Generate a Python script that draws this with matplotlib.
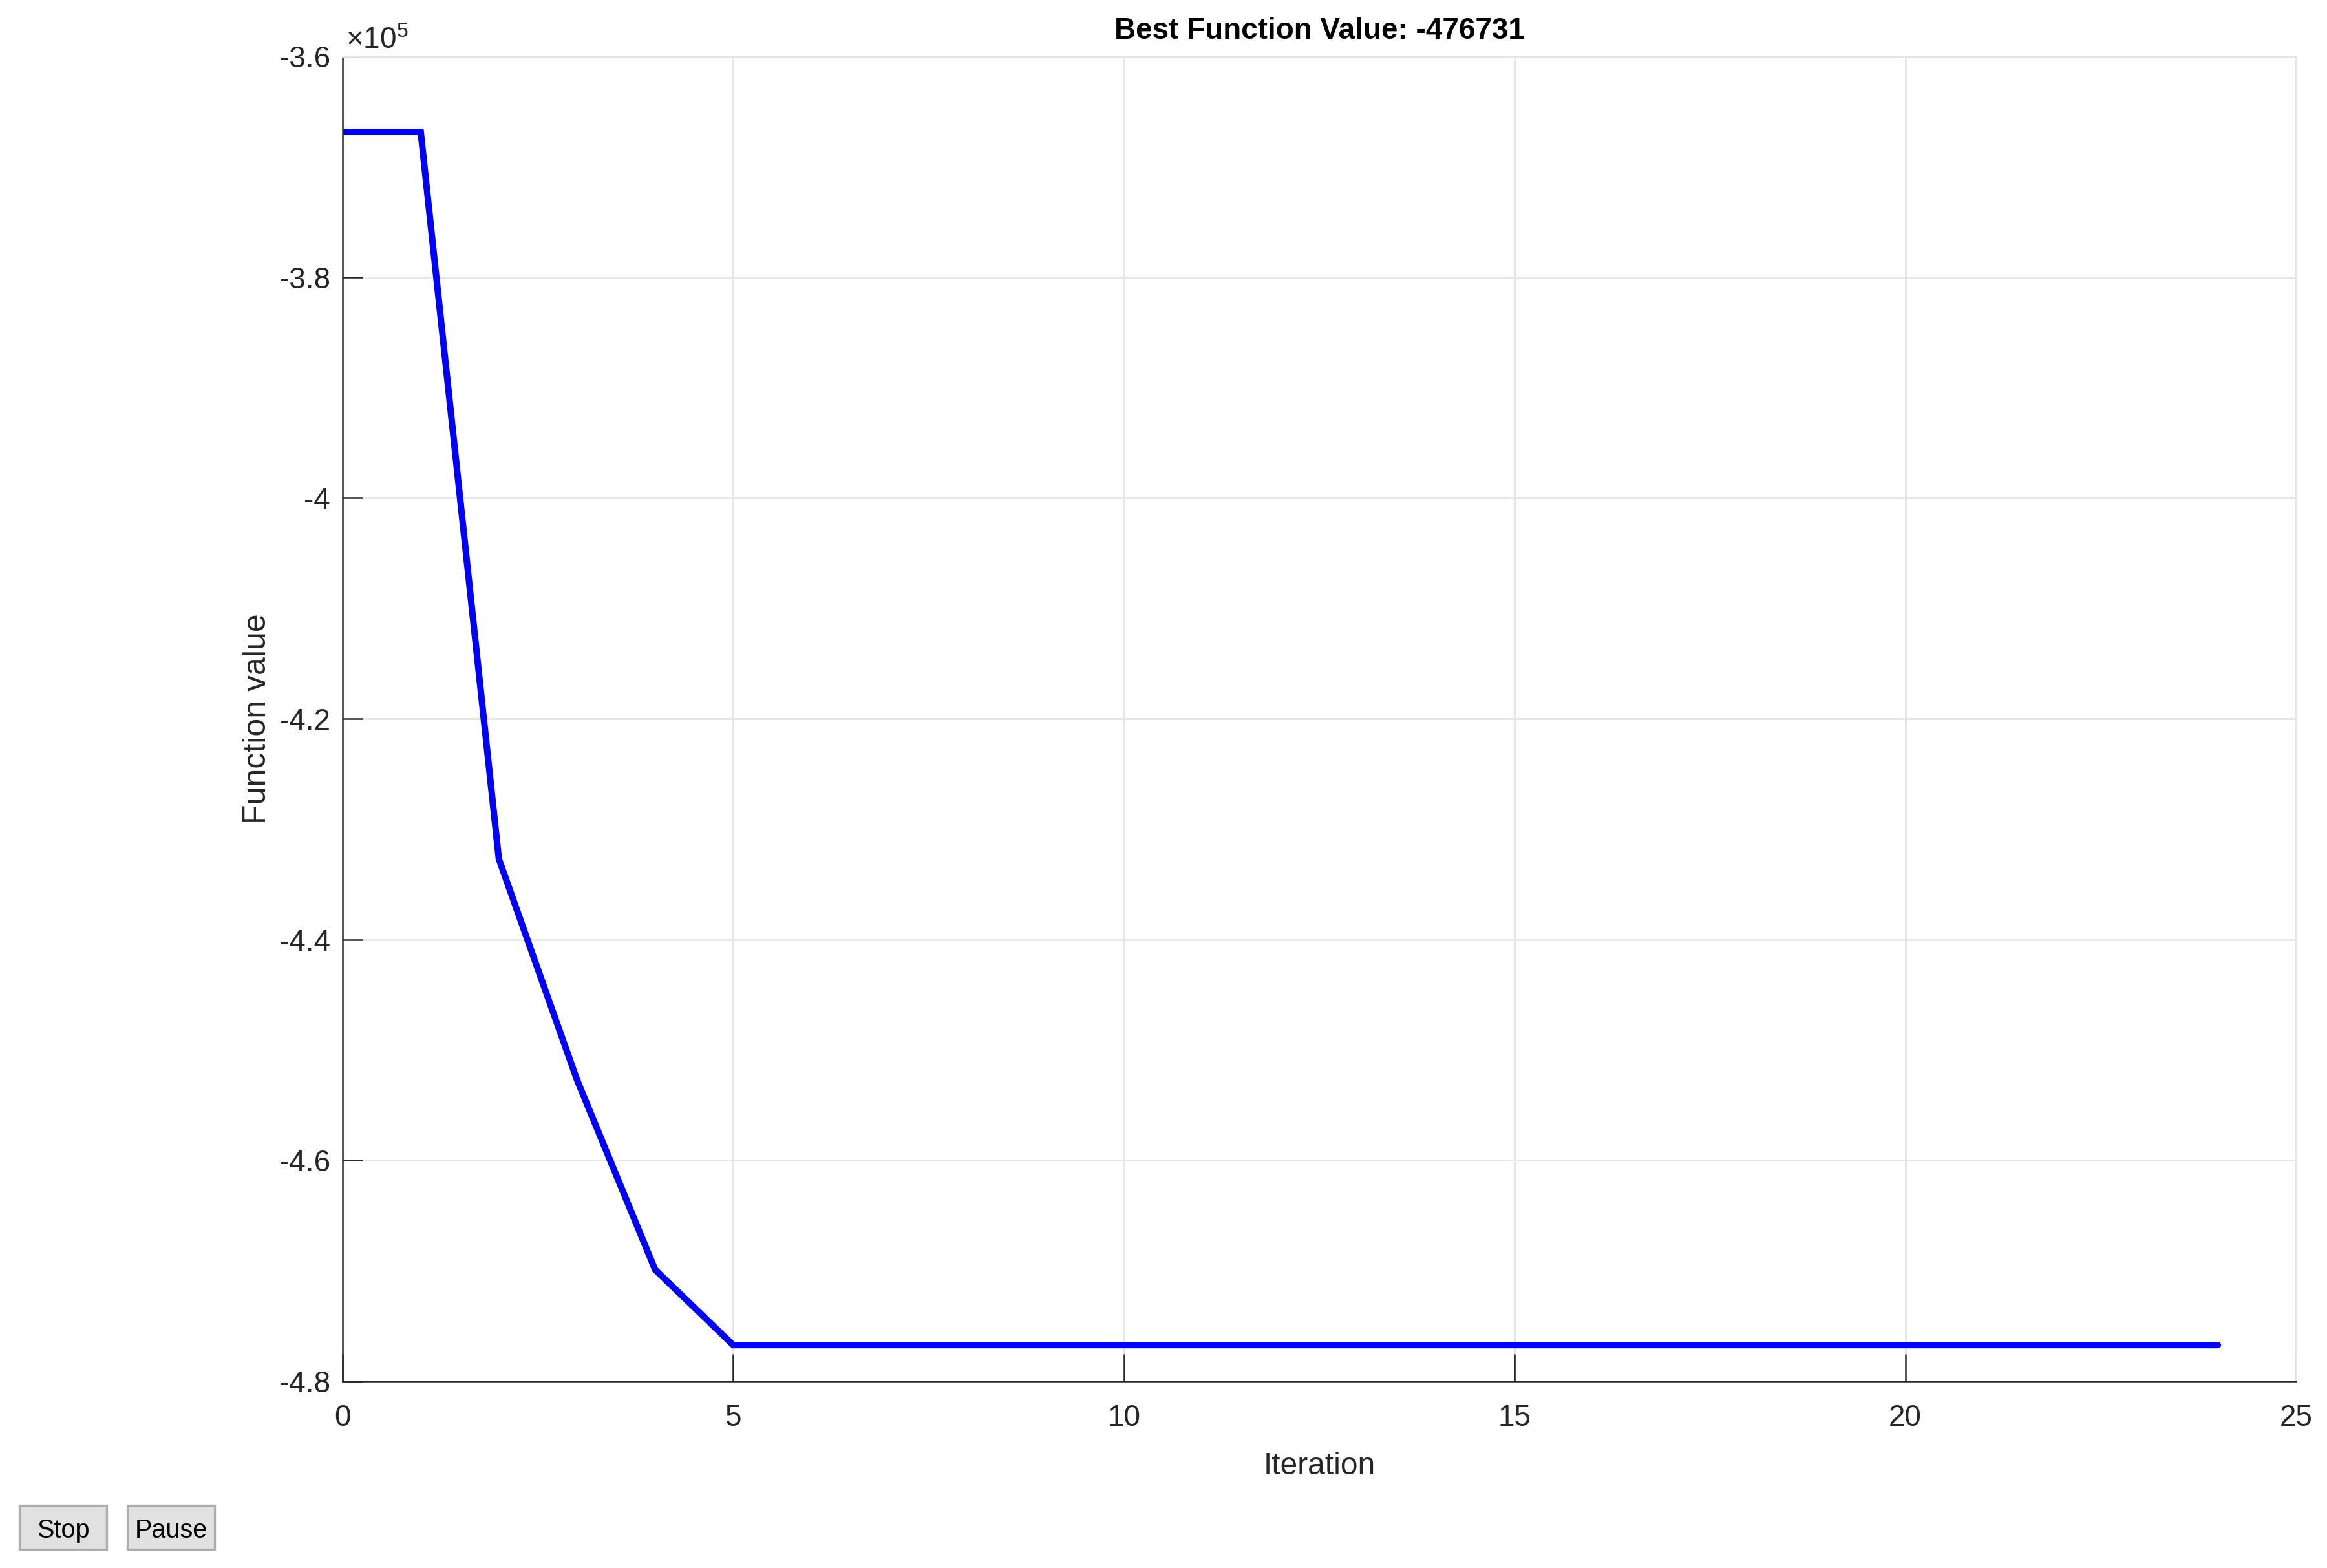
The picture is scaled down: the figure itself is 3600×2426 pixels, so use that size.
import numpy as np
import matplotlib
matplotlib.use('Agg')
import matplotlib.pyplot as plt
from matplotlib.patches import Rectangle
from matplotlib.ticker import FuncFormatter

# best value found at each iteration
iterations = np.arange(25)
best_values = [-366850, -366850, -432700, -452700, -469900,
               -476731, -476731, -476731, -476731, -476731,
               -476731, -476731, -476731, -476731, -476731,
               -476731, -476731, -476731, -476731, -476731,
               -476731, -476731, -476731, -476731, -476731]

x_ticks = [0, 5, 10, 15, 20, 25]
y_ticks = [-480000, -460000, -440000, -420000, -400000, -380000, -360000]

fonts = ['Liberation Sans', 'DejaVu Sans']
txt_col = '#262626'
grid_col = '#e6e6e6'

plt.rcParams['font.family'] = fonts
plt.rcParams['mathtext.fontset'] = 'custom'
plt.rcParams['mathtext.rm'] = 'Liberation Sans'

fig = plt.figure(figsize=(12, 2426 / 300), dpi=300)
ax = fig.add_axes([530 / 3600, 1 - 2137 / 2426, 3022 / 3600, 2050 / 2426])

ax.plot(iterations, best_values, color='#0000ff', linewidth=2.4,
        solid_capstyle='round', solid_joinstyle='miter')

ax.set_xlim(0, 25)
ax.set_ylim(-480000, -360000)
ax.set_xticks(x_ticks)
ax.set_yticks(y_ticks)
ax.yaxis.set_major_formatter(FuncFormatter(lambda v, p: f'{v / 1e5:g}'))

ax.grid(True, color=grid_col, linewidth=0.7)
ax.set_axisbelow(True)
for s in ['top', 'right']:
    ax.spines[s].set_color(grid_col)
    ax.spines[s].set_linewidth(0.7)
for s in ['left', 'bottom']:
    ax.spines[s].set_color(txt_col)
    ax.spines[s].set_linewidth(0.6)

ax.tick_params(axis='x', direction='in', length=10, width=0.6, color=txt_col,
               labelsize=11, labelcolor=txt_col, pad=8.5)
ax.tick_params(axis='y', direction='in', length=7.4, width=0.6, color=txt_col,
               labelsize=11, labelcolor=txt_col, pad=4.5)

ax.set_title('Best Function Value: -476731', fontsize=11, fontweight='bold',
             color='black', pad=6.5)
ax.set_xlabel('Iteration', fontsize=11.5, color=txt_col)
ax.xaxis.set_label_coords(0.5, -0.053)
ax.set_ylabel('Function value', fontsize=12, color=txt_col)
ax.yaxis.set_label_coords(-0.036, 0.5)

# exponent label at top of y axis
fig.text(535 / 3600, 1 - 75 / 2426, r'$\mathrm{\times10^{5}}$', fontsize=11,
         color=txt_col, ha='left', va='baseline')

# Stop / Pause buttons
for x0, label in [(30, 'Stop'), (197, 'Pause')]:
    fig.patches.append(Rectangle((x0 / 3600, 1 - 2397 / 2426), 135 / 3600, 68 / 2426,
                                 transform=fig.transFigure, facecolor='#e1e1e1',
                                 edgecolor='#adadad', linewidth=0.8))
    fig.text((x0 + 67.5) / 3600, 1 - 2368 / 2426, label, fontsize=9.5,
             color='black', ha='center', va='center')

fig.savefig('out.png', dpi=300, facecolor='white')
